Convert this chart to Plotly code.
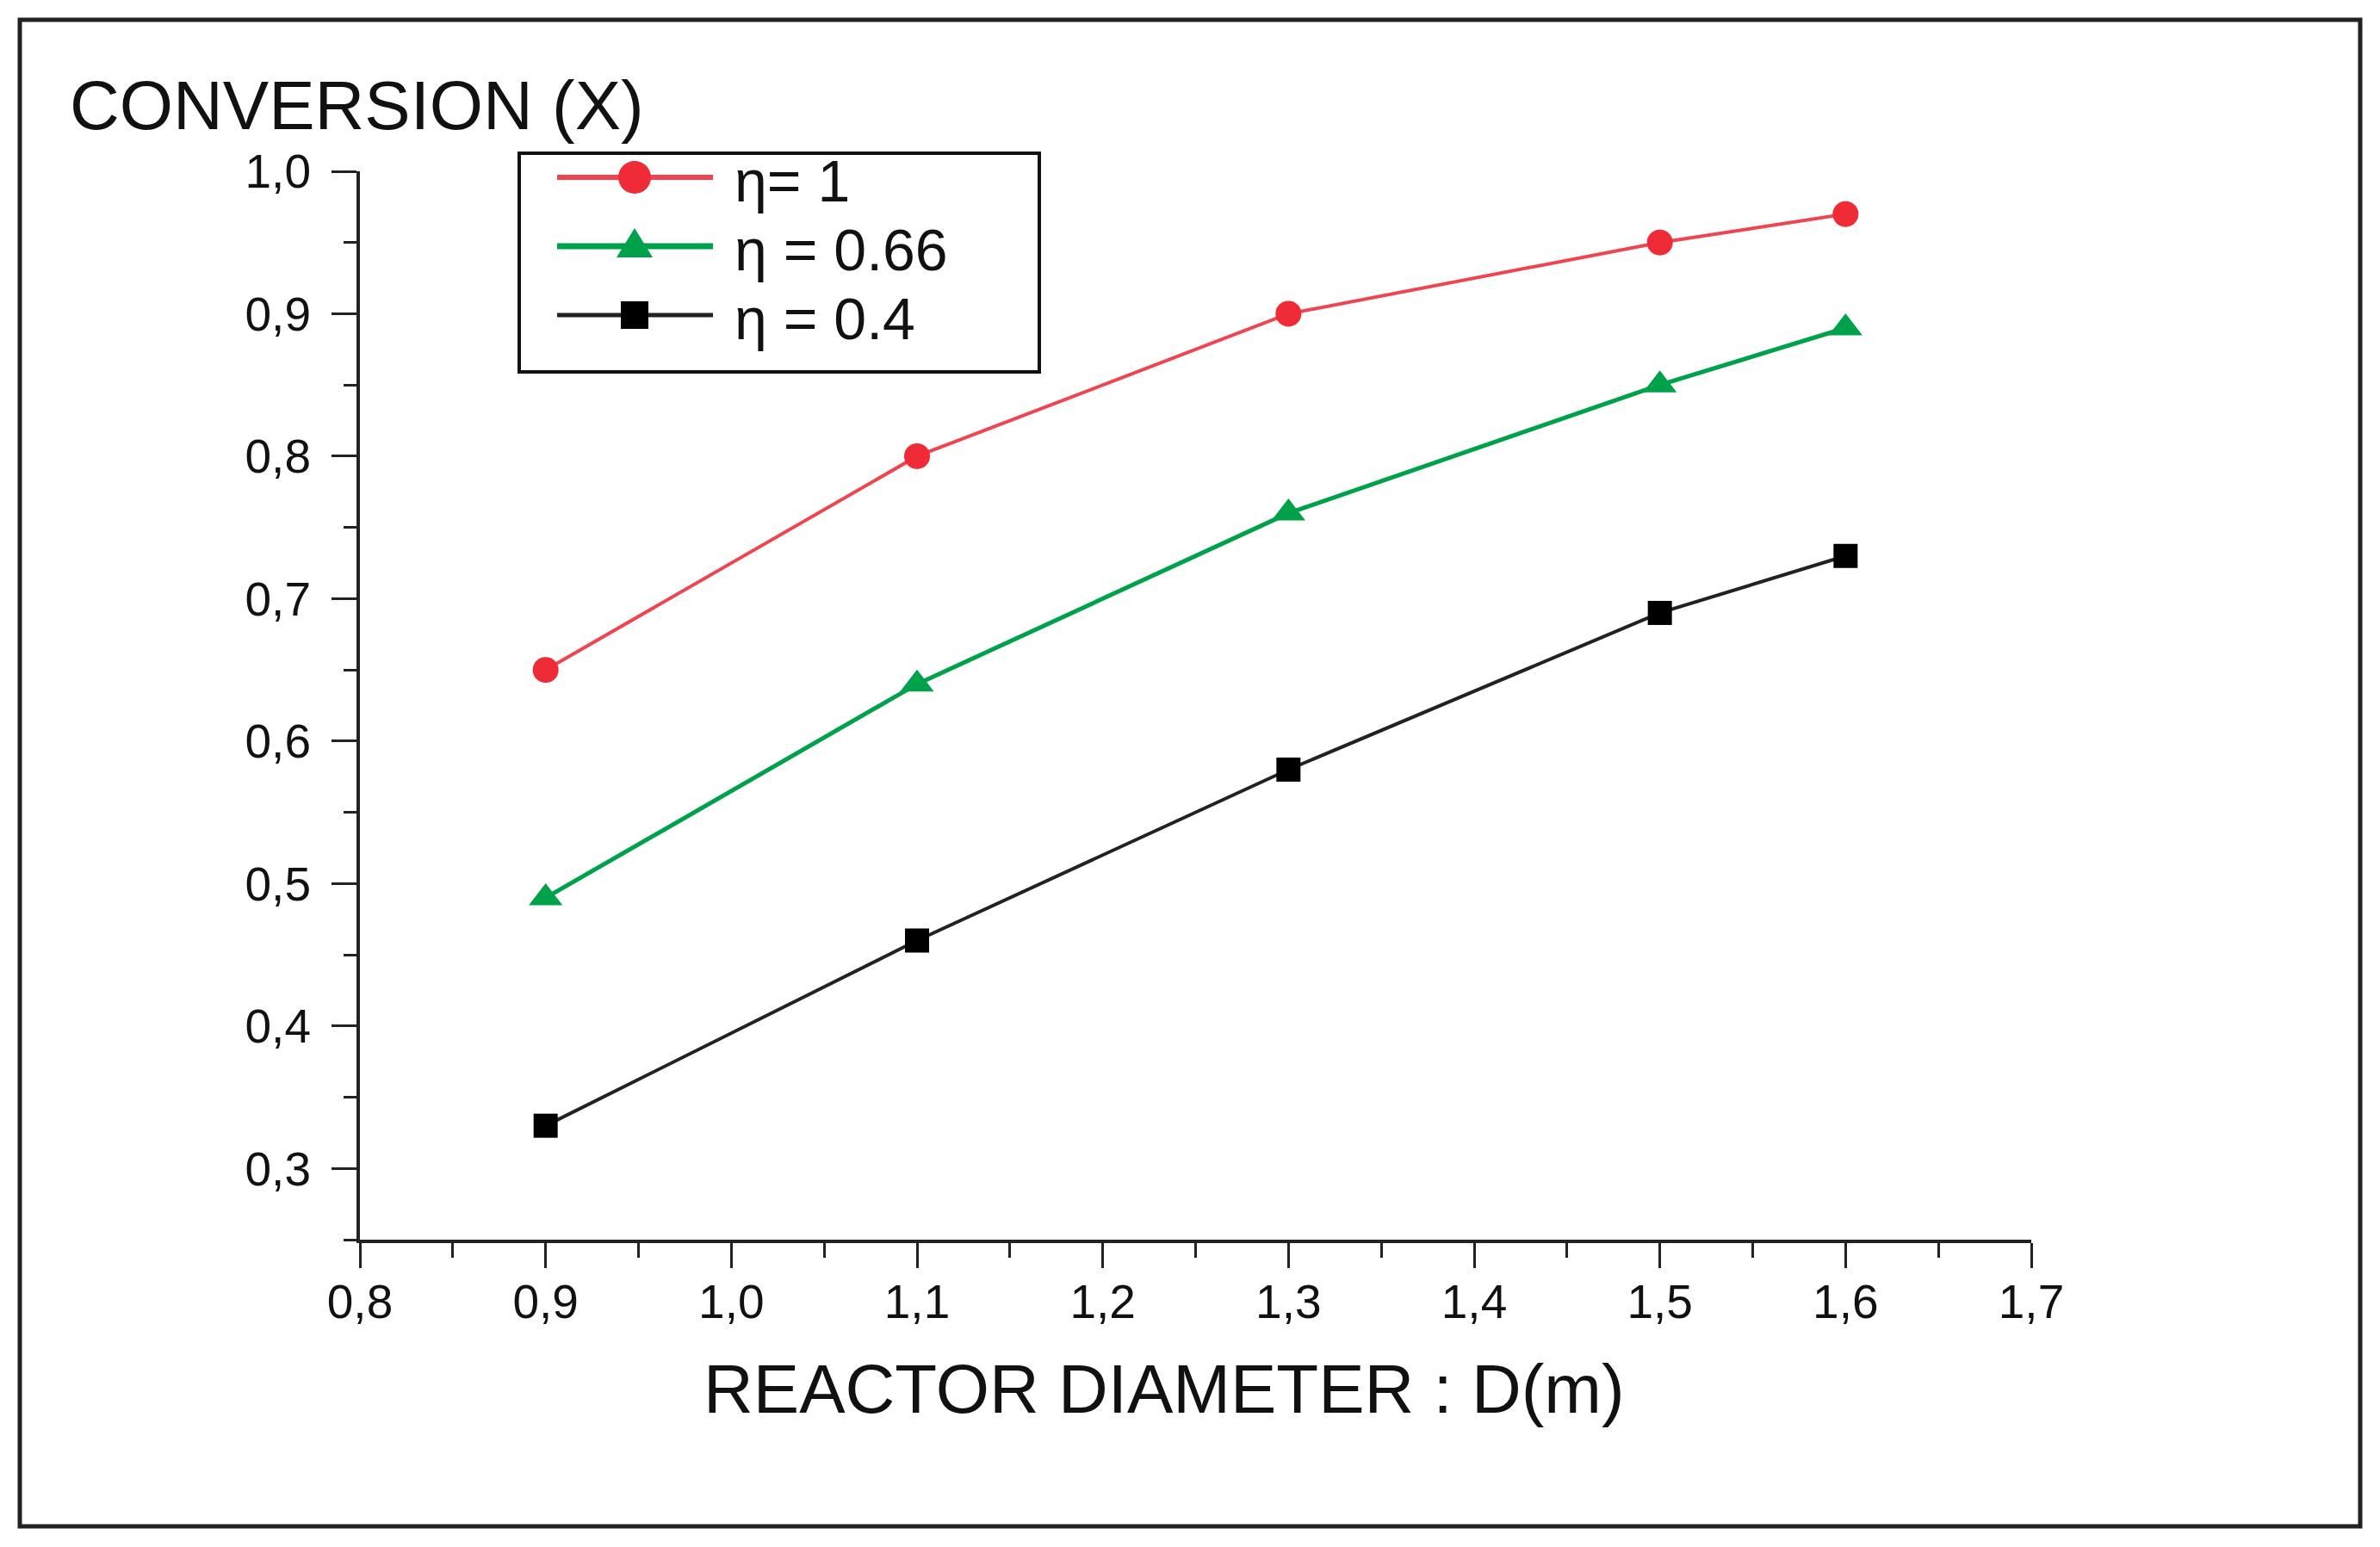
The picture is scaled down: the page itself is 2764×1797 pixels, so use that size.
import plotly.graph_objects as go

# ---- data ----
diameter = [0.9, 1.1, 1.3, 1.5, 1.6]
conv_eta_1 = [0.65, 0.80, 0.90, 0.95, 0.97]
conv_eta_066 = [0.49, 0.64, 0.76, 0.85, 0.89]
conv_eta_04 = [0.33, 0.46, 0.58, 0.69, 0.73]
series_names = ["η= 1", "η = 0.66", "η = 0.4"]

RED = "#EE2B36"
RED_LINE = "#EF4550"
GREEN = "#00A14B"
BLACK = "#000000"
FONT = "Arial, Liberation Sans, sans-serif"

W, H = 2764, 1797
L, R, T, B = 418, 2359, 199, 1440  # plot area pixels
PW, PH = R - L, B - T


def px(x):
    return (x - L) / PW


def py(y):
    return (B - y) / PH


fig = go.Figure()
fig.add_trace(go.Scatter(x=diameter, y=conv_eta_1, mode="lines+markers", name=series_names[0],
                         line=dict(color=RED_LINE, width=4),
                         marker=dict(symbol="circle", size=30, color=RED), showlegend=False))
fig.add_trace(go.Scatter(x=diameter, y=conv_eta_066, mode="lines+markers", name=series_names[1],
                         line=dict(color=GREEN, width=5),
                         marker=dict(symbol="triangle-up", size=34, color=GREEN), showlegend=False))
fig.add_trace(go.Scatter(x=diameter, y=conv_eta_04, mode="lines+markers", name=series_names[2],
                         line=dict(color="#222222", width=4),
                         marker=dict(symbol="square", size=28, color=BLACK), showlegend=False))

axis_common = dict(
    showline=True, linecolor="#222222", linewidth=4,
    ticks="outside", ticklen=29, tickwidth=3, tickcolor="#222222",
    showgrid=False, zeroline=False, mirror=False,
    tickfont=dict(family=FONT, size=55, color="#111111"),
    tickformat=".1f",
)

fig.update_xaxes(range=[0.8, 1.7], tick0=0.8, dtick=0.1,
                 minor=dict(ticks="outside", ticklen=17, tickwidth=3, tickcolor="#222222", dtick=0.05, tick0=0.8),
                 ticklabelstandoff=-8, **axis_common)
fig.update_yaxes(range=[0.25, 1.0], tick0=0.3, dtick=0.1,
                 minor=dict(ticks="outside", ticklen=15, tickwidth=3, tickcolor="#222222", dtick=0.05, tick0=0.25),
                 ticklabelstandoff=13, **axis_common)

shapes = []
annotations = []

# outer frame
shapes.append(dict(type="rect", xref="paper", yref="paper",
                   x0=px(23), x1=px(2741), y0=py(1773), y1=py(23),
                   line=dict(color="#222222", width=5), fillcolor="rgba(0,0,0,0)", layer="below"))

# axis titles
annotations.append(dict(text="CONVERSION (X)", xref="paper", yref="paper", x=px(79), y=py(123),
                        xanchor="left", yanchor="middle", showarrow=False,
                        font=dict(family=FONT, size=80, color="#111111")))
annotations.append(dict(text="REACTOR DIAMETER : D(m)", xref="paper", yref="paper", x=px(1352), y=py(1613),
                        xanchor="center", yanchor="middle", showarrow=False,
                        font=dict(family=FONT, size=80, color="#111111")))

# legend box
shapes.append(dict(type="rect", xref="paper", yref="paper",
                   x0=px(603), x1=px(1207), y0=py(432), y1=py(178),
                   line=dict(color="#111111", width=4), fillcolor="white"))

rows = [206, 286, 366]
line_cols = [RED_LINE, GREEN, "#222222"]
line_ws = [6, 7, 5]
mx = 737
for i, yrow in enumerate(rows):
    shapes.append(dict(type="line", xref="paper", yref="paper",
                       x0=px(647), x1=px(828), y0=py(yrow), y1=py(yrow),
                       line=dict(color=line_cols[i], width=line_ws[i])))
    annotations.append(dict(text=series_names[i], xref="paper", yref="paper", x=px(851), y=py(yrow + 4),
                            xanchor="left", yanchor="middle", showarrow=False,
                            font=dict(family=FONT, size=68, color="#111111")))

# legend markers
r = 19
shapes.append(dict(type="circle", xref="paper", yref="paper",
                   x0=px(mx - r), x1=px(mx + r), y0=py(rows[0] + r), y1=py(rows[0] - r),
                   line=dict(width=0), fillcolor=RED))
tw, th = 21, 34
ty = rows[1]
path = "M {} {} L {} {} L {} {} Z".format(px(mx - tw), py(ty + 13), px(mx + tw), py(ty + 13), px(mx), py(ty + 13 - th))
shapes.append(dict(type="path", xref="paper", yref="paper", path=path,
                   line=dict(width=0), fillcolor=GREEN))
s = 16
shapes.append(dict(type="rect", xref="paper", yref="paper",
                   x0=px(mx - s), x1=px(mx + s), y0=py(rows[2] + s), y1=py(rows[2] - s),
                   line=dict(width=0), fillcolor=BLACK))

fig.update_layout(
    width=W, height=H, autosize=False,
    margin=dict(l=L, r=W - R, t=T, b=H - B),
    paper_bgcolor="white", plot_bgcolor="white",
    separators=", ",
    shapes=shapes, annotations=annotations,
    showlegend=False,
)

fig.write_html("out.html")
